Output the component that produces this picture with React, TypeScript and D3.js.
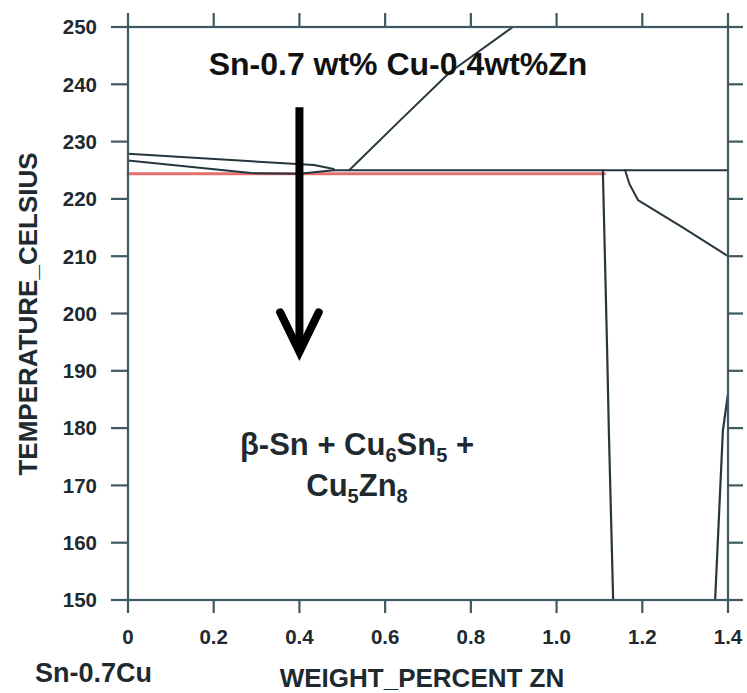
import React from "react";
import * as d3 from "d3";

// Isopleth section of Sn-0.7Cu-xZn: temperature vs. Zn content
const W = 747;
const H = 693;

const xTicks = [0, 0.2, 0.4, 0.6, 0.8, 1.0, 1.2, 1.4];
const xTickLabels = ["0", "0.2", "0.4", "0.6", "0.8", "1.0", "1.2", "1.4"];
const yTicks = [150, 160, 170, 180, 190, 200, 210, 220, 230, 240, 250];

// phase boundaries: [wt% Zn, °C]
const boundaryUpper: [number, number][] = [[0, 227.9], [0.434, 225.9], [0.48, 225.2]];
const boundaryLower: [number, number][] = [[0, 226.7], [0.287, 224.5], [0.40, 224.4], [0.48, 225]];
const liquidusZn: [number, number][] = [[0.516, 225], [0.635, 233.7], [0.751, 242.1], [0.898, 250]];
const eutecticLine: [number, number][] = [[0.48, 225], [1.4, 225]];
const solvusLeft: [number, number][] = [[1.108, 225], [1.118, 193.5], [1.122, 179.5], [1.132, 150]];
const solvusRight: [number, number][] = [[1.16, 225], [1.17, 222.6], [1.19, 219.8], [1.295, 215], [1.398, 210.1]];
const solvusFar: [number, number][] = [[1.37, 150], [1.388, 179.5], [1.4, 186]];
const alloyLine: [number, number][] = [[0, 224.4], [1.112, 224.4]];

// cooling arrow of the 0.4 wt% Zn alloy
const arrowZn = 0.4;
const arrowTop = 236;
const arrowTip = 193.3;
const arrowWing = 200.2;
const arrowHalfWidth = 0.045;

export default function App() {
  const x = d3.scaleLinear().domain([0, 1.4]).range([128, 728]);
  const y = d3.scaleLinear().domain([150, 250]).range([600, 27]);
  const line = d3
    .line<[number, number]>()
    .x((d) => x(d[0]))
    .y((d) => y(d[1]));

  const axisColor = "#3f5862";
  const curveColor = "#26363d";
  const font = "'Liberation Sans', Arial, sans-serif";
  const [x0, x1] = x.range();
  const [yb, yt] = y.range();

  return (
    <svg
      width={W}
      height={H}
      style={{ position: "absolute", left: 0, top: 0, background: "#fff" }}
      fontFamily={font}
    >
      <rect x={0} y={0} width={W} height={H} fill="#fff" />

      {/* phase boundaries */}
      <g fill="none" strokeLinejoin="round" strokeLinecap="round">
        <path d={line(alloyLine)!} stroke="#e46f6f" strokeWidth={3} />
        <path d={line(eutecticLine)!} stroke={curveColor} strokeWidth={2} />
        <path d={line(boundaryUpper)!} stroke={curveColor} strokeWidth={2} />
        <path d={line(boundaryLower)!} stroke={curveColor} strokeWidth={2} />
        <path d={line(liquidusZn)!} stroke={curveColor} strokeWidth={2} />
        <path d={line(solvusLeft)!} stroke={curveColor} strokeWidth={2.2} />
        <path d={line(solvusRight)!} stroke={curveColor} strokeWidth={2} />
        <path d={line(solvusFar)!} stroke={curveColor} strokeWidth={2.2} />
      </g>

      {/* frame */}
      <g stroke={axisColor} strokeWidth={2.2} fill="none">
        <rect x={x0} y={yt} width={x1 - x0} height={yb - yt} />
        {yTicks.map((t) => (
          <g key={"y" + t}>
            <line x1={x0 - 17} x2={x0} y1={y(t)} y2={y(t)} />
            <line x1={x1} x2={x1 + 15} y1={y(t)} y2={y(t)} />
          </g>
        ))}
        {xTicks.map((t) => (
          <g key={"x" + t}>
            <line x1={x(t)} x2={x(t)} y1={yb} y2={yb + 13} />
            <line x1={x(t)} x2={x(t)} y1={yt - 14} y2={yt} />
          </g>
        ))}
      </g>

      {/* tick labels */}
      <g fontWeight="bold" fontSize={20.5} fill="#1e2a2f">
        {yTicks.map((t) => (
          <text key={"yl" + t} x={97} y={y(t)} dy="0.36em" textAnchor="end">
            {t}
          </text>
        ))}
        {xTicks.map((t, i) => (
          <text key={"xl" + t} x={x(t)} y={644} textAnchor="middle">
            {xTickLabels[i]}
          </text>
        ))}
      </g>

      {/* axis titles */}
      <text
        x={0}
        y={0}
        transform={`translate(37,314) rotate(-90)`}
        textAnchor="middle"
        fontWeight="bold"
        fontSize={26}
        fill="#1e2a2f"
      >
        TEMPERATURE_CELSIUS
      </text>
      <text x={422} y={687} textAnchor="middle" fontWeight="bold" fontSize={26} fill="#1e2a2f">
        WEIGHT_PERCENT ZN
      </text>
      <text x={35} y={682} fontWeight="bold" fontSize={27} fill="#1e2a2f">
        Sn-0.7Cu
      </text>

      {/* alloy title */}
      <text x={398} y={75} textAnchor="middle" fontWeight="bold" fontSize={32} fill="#111">
        Sn-0.7 wt% Cu-0.4wt%Zn
      </text>

      {/* cooling arrow */}
      <g stroke="#000" fill="none" strokeWidth={8}>
        <line x1={x(arrowZn)} x2={x(arrowZn)} y1={y(arrowTop)} y2={y(arrowTip) - 4} />
        <path
          d={`M${x(arrowZn - arrowHalfWidth)},${y(arrowWing)} L${x(arrowZn)},${y(arrowTip)} L${x(arrowZn + arrowHalfWidth)},${y(arrowWing)}`}
          strokeLinejoin="miter"
          strokeLinecap="round"
        />
      </g>

      {/* phase field label */}
      <g fontWeight="bold" fontSize={31} fill="#1e2a2f" textAnchor="middle">
        <text x={357} y={455}>
          β-Sn + Cu<tspan fontSize={20} dy={7}>6</tspan>
          <tspan dy={-7}>Sn</tspan>
          <tspan fontSize={20} dy={7}>5</tspan>
          <tspan dy={-7}> +</tspan>
        </text>
        <text x={357} y={496}>
          Cu<tspan fontSize={20} dy={7}>5</tspan>
          <tspan dy={-7}>Zn</tspan>
          <tspan fontSize={20} dy={7}>8</tspan>
        </text>
      </g>
    </svg>
  );
}
